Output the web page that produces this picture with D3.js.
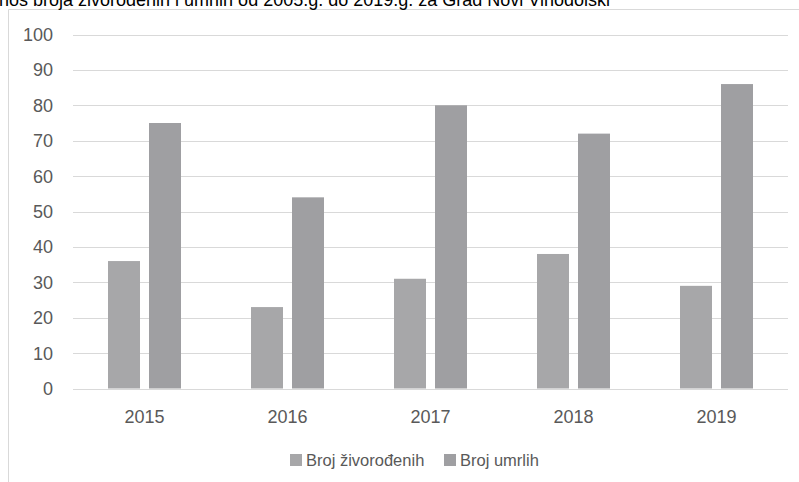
<!DOCTYPE html>
<html>
<head>
<meta charset="utf-8">
<script src="https://cdn.jsdelivr.net/npm/d3@7/dist/d3.min.js"></script>
<style>
  html, body { margin: 0; padding: 0; background: #fff; overflow: hidden; }
  svg { display: block; font-family: 'Liberation Sans', Arial, sans-serif; }
</style>
</head>
<body>
<div id="chart"></div>
<script>
  // ---- data ----
  const years = ['2015', '2016', '2017', '2018', '2019'];
  const zivorodeni = [36, 23, 31, 38, 29];
  const umrli = [75, 54, 80, 72, 86];
  const seriesNames = ['Broj živorođenih', 'Broj umrlih'];
  const yTicks = [0, 10, 20, 30, 40, 50, 60, 70, 80, 90, 100];

  const W = 799, H = 482;
  const colors = ['#a7a7a9', '#9f9fa2'];
  const textColor = '#595959';
  const gridColor = '#d9d9d9';

  const svg = d3.select('#chart').append('svg')
    .attr('width', W).attr('height', H);

  // chart frame (clipped by the window on right/bottom)
  svg.append('path')
    .attr('d', 'M8.5,' + H + 'V9.5H' + W)
    .attr('fill', 'none')
    .attr('stroke', gridColor);

  // title, cut off at the top-left like the source
  svg.append('text')
    .attr('x', -1).attr('y', 6)
    .attr('font-size', 18)
    .attr('fill', '#000')
    .text('nos broja živorođenih i umrlih od 2005.g. do 2019.g. za Grad Novi Vinodolski');

  const x = d3.scaleBand().domain(years).range([73, 788]);
  const y = d3.scaleLinear().domain([0, 100]).range([388.5, 34.5]);

  // gridlines
  svg.append('g').selectAll('line')
    .data(yTicks)
    .join('line')
    .attr('x1', 73).attr('x2', 788)
    .attr('y1', d => Math.round(y(d)) + 0.5)
    .attr('y2', d => Math.round(y(d)) + 0.5)
    .attr('stroke', gridColor)
    .attr('stroke-width', 1);

  // y labels
  svg.append('g').selectAll('text')
    .data(yTicks)
    .join('text')
    .attr('x', 53)
    .attr('y', d => y(d) + 6.5)
    .attr('text-anchor', 'end')
    .attr('font-size', 18)
    .attr('fill', textColor)
    .text(d => d);

  // bars
  const barW = 32, gap = 9;
  const series = [zivorodeni, umrli];
  series.forEach((vals, si) => {
    svg.append('g').selectAll('rect')
      .data(years)
      .join('rect')
      .attr('x', (d) => x(d) + x.bandwidth() / 2 - (barW * 2 + gap) / 2 + si * (barW + gap))
      .attr('y', (d, i) => y(vals[i]))
      .attr('width', barW)
      .attr('height', (d, i) => y(0) - y(vals[i]))
      .attr('fill', colors[si]);
  });

  // x labels
  svg.append('g').selectAll('text')
    .data(years)
    .join('text')
    .attr('x', d => x(d) + x.bandwidth() / 2)
    .attr('y', 423)
    .attr('text-anchor', 'middle')
    .attr('font-size', 18)
    .attr('fill', textColor)
    .text(d => d);

  // legend
  const legendX = [290, 444];
  seriesNames.forEach((name, i) => {
    svg.append('rect')
      .attr('x', legendX[i]).attr('y', 454)
      .attr('width', 12).attr('height', 12)
      .attr('fill', colors[i]);
    svg.append('text')
      .attr('x', legendX[i] + 16).attr('y', 466)
      .attr('font-size', 16.5)
      .attr('fill', textColor)
      .text(name);
  });
</script>
</body>
</html>
